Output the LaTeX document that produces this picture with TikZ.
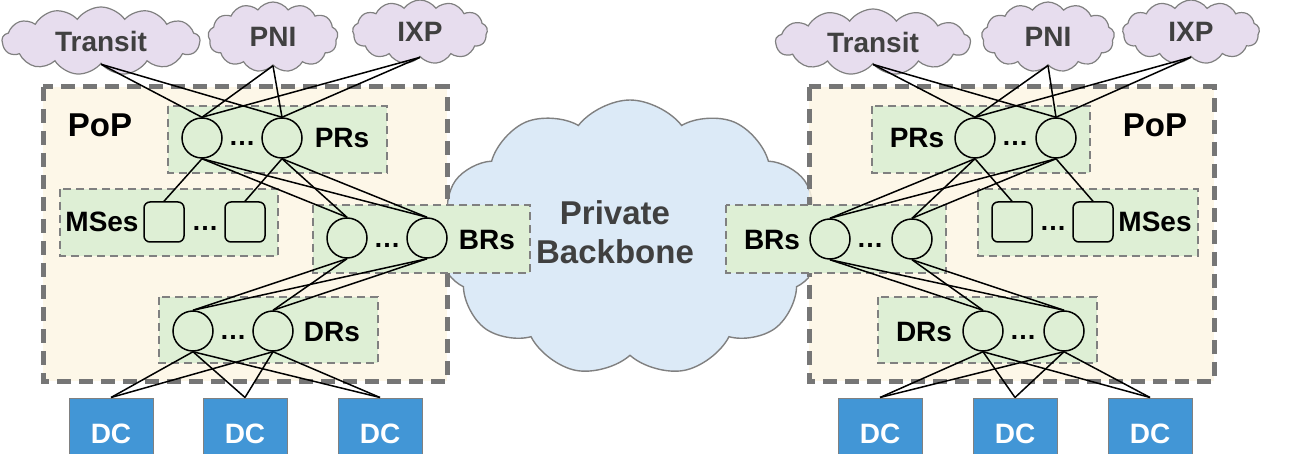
\documentclass[tikz,border=0pt]{standalone}
\usepackage{fontspec}
\setmainfont{Liberation Sans}
\usepackage{tikz}
\usetikzlibrary{shapes.symbols}
\definecolor{popfill}{RGB}{253,246,228}
\definecolor{popline}{RGB}{118,118,118}
\definecolor{grpfill}{RGB}{222,239,213}
\definecolor{grpline}{RGB}{128,128,128}
\definecolor{peerfill}{RGB}{231,221,238}
\definecolor{corefill}{RGB}{220,234,247}
\definecolor{dcblue}{RGB}{66,150,214}
\definecolor{cloudtext}{RGB}{64,64,64}

\tikzset{
  pop/.style={draw=popline, line width=2.5pt, dash pattern=on 7pt off 4pt, fill=popfill, fill opacity=0.85},
  grp/.style={draw=grpline, line width=0.6pt, dash pattern=on 4pt off 2.5pt, fill=grpfill},
  router/.style={circle, draw, line width=0.75pt, fill=grpfill, minimum size=20pt, inner sep=0pt},
  mswitch/.style={rectangle, rounded corners=3pt, draw, line width=0.75pt, fill=grpfill, minimum size=20pt, inner sep=0pt},
  dcbox/.style={rectangle, draw=grpline, line width=0.5pt, fill=dcblue, minimum width=42pt, minimum height=36pt, inner sep=0pt, text=white, font=\bfseries\fontsize{14}{16}\selectfont},
  peer/.style={cloud, cloud puffs=13, cloud puff arc=110, cloud ignores aspect, draw=grpline, line width=0.6pt, fill=peerfill, inner sep=0pt, text=cloudtext, font=\bfseries\fontsize{14}{16}\selectfont},
  core/.style={cloud, cloud puffs=11, cloud puff arc=105, cloud ignores aspect, draw=grpline, line width=0.7pt, fill=corefill, inner sep=0pt},
  lbl/.style={inner sep=0pt, font=\bfseries\fontsize{14}{16}\selectfont},
  poplbl/.style={inner sep=0pt, font=\bfseries\fontsize{16.5}{19}\selectfont},
  dots/.style={inner sep=0pt, font=\bfseries\fontsize{13.5}{16}\selectfont},
  link/.style={line width=0.75pt},
}

\begin{document}
\begin{tikzpicture}[x=0.5pt, y=-0.5pt]
  \useasboundingbox (0,0) rectangle (1306,454);

  % private backbone
  \node[core, minimum width=192pt, minimum height=138pt] (bb) at (630,238) {};
  \node[inner sep=0pt, align=center, text=cloudtext, font=\bfseries\fontsize{16.5}{19.5}\selectfont] (bbtext) at (615,232) {Private\\Backbone};

  % PoP areas and router groups
  \draw[pop] (43,87) rectangle (447,381);
  \draw[pop] (809,87) rectangle (1214,381);
  \draw[grp] (168,106) rectangle (387,173);
  \draw[grp] (60,189) rectangle (278,256);
  \draw[grp] (313,205) rectangle (530,273);
  \draw[grp] (159,297) rectangle (378,363);
  \draw[grp] (872,106) rectangle (1090,173);
  \draw[grp] (978,189) rectangle (1198,256);
  \draw[grp] (726,205) rectangle (946,273);
  \draw[grp] (878,297) rectangle (1097,363);

  % left PoP
  \node[peer, minimum width=99pt, minimum height=34pt] (L-transit) at (101,41) {Transit};
  \node[peer, minimum width=65pt, minimum height=35pt] (L-pni) at (273,37) {PNI};
  \node[peer, minimum width=67.5pt, minimum height=32pt] (L-ixp) at (420,32) {IXP};
  \node[poplbl] (L-pop) at (100,125) {PoP};
  \node[router] (L-pr1) at (202,138) {};
  \node[router] (L-pr2) at (282,138) {};
  \node[dots] (L-prdots) at (242,143) {\ldots};
  \node[lbl] (L-prs) at (342,138) {PRs};
  \node[mswitch] (L-ms1) at (164,222) {};
  \node[mswitch] (L-ms2) at (245,222) {};
  \node[dots] (L-msdots) at (205,228) {\ldots};
  \node[lbl] (L-mses) at (102,222) {MSes};
  \node[router] (L-br1) at (347,238) {};
  \node[router] (L-br2) at (427,238) {};
  \node[dots] (L-brdots) at (387,245) {\ldots};
  \node[lbl] (L-brs) at (487,240) {BRs};
  \node[router] (L-dr1) at (193,331) {};
  \node[router] (L-dr2) at (273,331) {};
  \node[dots] (L-drdots) at (233,337) {\ldots};
  \node[lbl] (L-drs) at (332,332) {DRs};
  \node[dcbox] (L-dc1) at (111,434) {DC};
  \node[dcbox] (L-dc2) at (245,434) {DC};
  \node[dcbox] (L-dc3) at (380,434) {DC};

  % right PoP
  \node[peer, minimum width=97.5pt, minimum height=33pt] (R-transit) at (873,42) {Transit};
  \node[peer, minimum width=66.5pt, minimum height=35pt] (R-pni) at (1048,37) {PNI};
  \node[peer, minimum width=68.5pt, minimum height=32pt] (R-ixp) at (1191,32) {IXP};
  \node[poplbl] (R-pop) at (1155,125) {PoP};
  \node[router] (R-pr1) at (975,138) {};
  \node[router] (R-pr2) at (1056,138) {};
  \node[dots] (R-prdots) at (1015,143) {\ldots};
  \node[lbl] (R-prs) at (917,138) {PRs};
  \node[mswitch] (R-ms1) at (1012,222) {};
  \node[mswitch] (R-ms2) at (1093,222) {};
  \node[dots] (R-msdots) at (1053,228) {\ldots};
  \node[lbl] (R-mses) at (1155,222) {MSes};
  \node[router] (R-br1) at (830,239) {};
  \node[router] (R-br2) at (912,239) {};
  \node[dots] (R-brdots) at (870,245) {\ldots};
  \node[lbl] (R-brs) at (772,240) {BRs};
  \node[router] (R-dr1) at (983,331) {};
  \node[router] (R-dr2) at (1064,331) {};
  \node[dots] (R-drdots) at (1023,337) {\ldots};
  \node[lbl] (R-drs) at (924,332) {DRs};
  \node[dcbox] (R-dc1) at (880,434) {DC};
  \node[dcbox] (R-dc2) at (1015,434) {DC};
  \node[dcbox] (R-dc3) at (1150,434) {DC};

  % links
  \foreach \s in {L,R}{
    \foreach \r in {1,2}{
      \foreach \p in {transit,pni,ixp}
        \draw[link] (\s-\p.south) -- (\s-pr\r.north);
      \draw[link] (\s-pr\r.south) -- (\s-ms\r.north);
      \foreach \b in {1,2}{
        \draw[link] (\s-pr\r.south) -- (\s-br\b.north);
        \draw[link] (\s-br\r.south) -- (\s-dr\b.north);
      }
      \foreach \d in {1,2,3}
        \draw[link] (\s-dr\r.south) -- (\s-dc\d.north);
    }
  }
\end{tikzpicture}
\end{document}
